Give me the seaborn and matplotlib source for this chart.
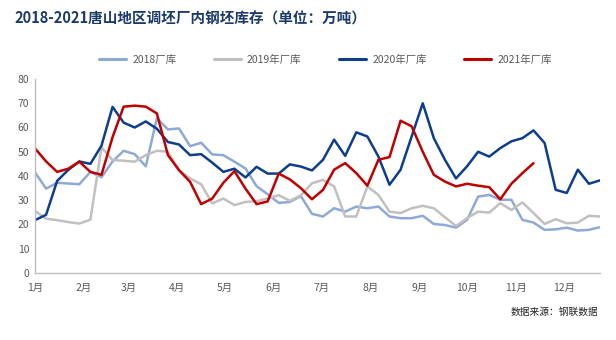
import numpy as np
import pandas as pd
import matplotlib
matplotlib.use("Agg")
import matplotlib.pyplot as plt
import seaborn as sns

# ---- data (weekly, week index 0..51) ----
series_names = ["2018厂库", "2019年厂库", "2020年厂库", "2021年厂库"]
s2018 = [41.5, 34.8, 37.2, 36.9, 36.6, 41.7, 39.5, 46.0, 50.4, 49.0, 44.0, 63.8, 59.2, 59.6, 52.3, 53.7,
         48.9, 48.6, 45.9, 43.1, 35.8, 32.5, 28.9, 29.3, 31.7, 24.4, 23.3, 26.7, 25.3, 27.4, 26.7, 27.4,
         23.3, 22.6, 22.6, 23.6, 20.2, 19.8, 18.7, 21.9, 31.5, 32.2, 30.2, 30.2, 21.9, 20.8, 17.8, 18.0,
         18.7, 17.5, 17.8, 18.9]
s2019 = [25.6, 22.4, 21.8, 21.0, 20.4, 22.0, 51.8, 46.6, 46.3, 45.9, 48.6, 50.4, 50.0, 42.4, 39.0, 36.6,
         28.7, 30.7, 28.0, 29.3, 29.6, 30.7, 32.1, 29.8, 32.0, 37.0, 38.4, 35.7, 23.3, 23.3, 35.7, 32.2,
         25.3, 24.7, 26.7, 27.7, 26.7, 23.0, 19.4, 22.6, 25.3, 24.9, 28.8, 26.0, 29.1, 24.7, 20.2, 22.2,
         20.5, 20.8, 23.6, 23.3]
s2020 = [21.8, 24.0, 38.0, 42.5, 46.0, 45.0, 52.5, 68.5, 62.0, 60.0, 62.5, 59.5, 54.0, 53.0, 48.6, 49.0,
         45.5, 41.7, 43.0, 39.4, 43.8, 41.0, 41.0, 44.8, 43.9, 42.3, 46.7, 55.0, 48.3, 58.0, 56.3, 48.0,
         36.4, 42.6, 56.3, 70.0, 55.6, 46.7, 39.0, 44.0, 50.0, 48.0, 51.5, 54.3, 55.6, 58.8, 53.6, 34.3,
         33.0, 42.6, 36.8, 38.2]
s2021 = [51.4, 46.0, 41.7, 43.0, 45.9, 41.7, 40.5, 56.0, 68.6, 69.0, 68.6, 65.8, 48.6, 42.4, 37.6, 28.4,
         30.7, 37.2, 42.0, 34.8, 28.4, 29.5, 41.0, 38.6, 35.0, 30.4, 34.3, 42.6, 45.3, 41.2, 36.0, 46.7,
         47.8, 62.8, 60.5, 50.0, 40.5, 37.7, 35.7, 36.8, 36.0, 35.4, 30.4, 36.8, 41.2, 45.3]
month_labels = ["1月", "2月", "3月", "4月", "5月", "6月", "7月", "8月", "9月", "10月", "11月", "12月"]
month_start_day = [0, 31, 59, 90, 120, 151, 181, 212, 243, 273, 304, 334]

colors = ["#8EA9D6", "#C0C0C0", "#0D3E8E", "#C00000"]

frames = []
for name, vals in zip(series_names, [s2018, s2019, s2020, s2021]):
    frames.append(pd.DataFrame({"week": np.arange(len(vals)), "value": vals, "series": name}))
df = pd.concat(frames, ignore_index=True)

sns.set_theme(style="white")
plt.rcParams["font.family"] = ["Noto Sans CJK SC", "DejaVu Sans"]

fig = plt.figure(figsize=(6.16, 3.40), dpi=100)
ax = fig.add_axes([35 / 616, 67 / 340, 565 / 616, 194 / 340])

sns.lineplot(data=df, x="week", y="value", hue="series", hue_order=series_names,
             palette=colors, linewidth=1.8, ax=ax, legend=True)

ax.set_xlim(0, 51)
ax.set_ylim(0, 80)
ax.set_yticks(range(0, 81, 10))
ax.set_xticks([d / 7 for d in month_start_day])
ax.set_xticklabels(month_labels)
ax.tick_params(axis="both", length=0, labelsize=7.5, colors="#595959", pad=4)
ax.tick_params(axis="x", pad=7)
ax.set_xlabel("")
ax.set_ylabel("")
for side in ["top", "right"]:
    ax.spines[side].set_visible(False)
for side in ["left", "bottom"]:
    ax.spines[side].set_color("#BFBFBF")
    ax.spines[side].set_linewidth(1.0)

handles, labels = ax.get_legend_handles_labels()
ax.get_legend().remove()
leg = fig.legend(handles, labels, loc="center", bbox_to_anchor=(0.528, 0.824), ncol=4,
                 frameon=False, fontsize=7.5, handlelength=2.6, handletextpad=0.6,
                 columnspacing=3.6)
for t in leg.get_texts():
    t.set_color("#595959")
for h in leg.get_lines():
    h.set_linewidth(2.2)

fig.text(14 / 616, 1 - 19 / 340, "2018-2021唐山地区调坯厂内钢坯库存（单位：万吨）",
         fontsize=10.5, fontweight="bold", color="#1B3A6B", ha="left", va="center")
fig.text(598 / 616, 1 - 312 / 340, "数据来源：钢联数据", fontsize=7, color="#222222",
         ha="right", va="center")

fig.savefig("out.png", dpi=100)
